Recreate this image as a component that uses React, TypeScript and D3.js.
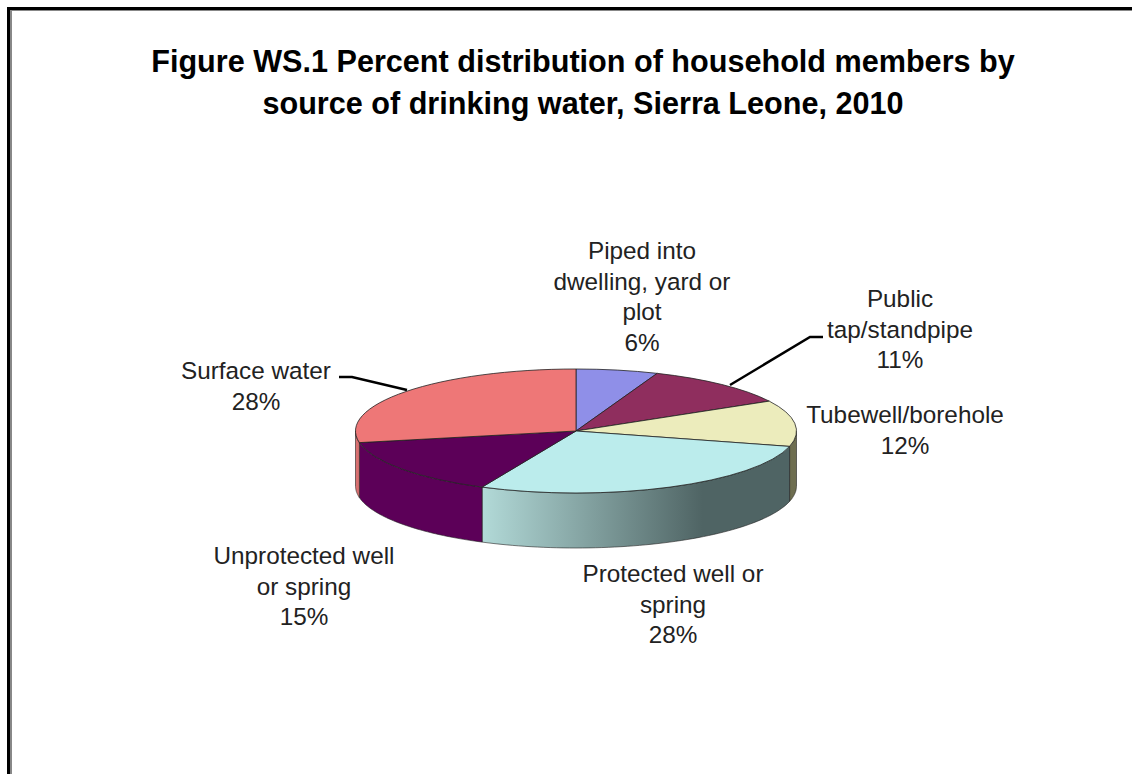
import React from "react";
import * as d3 from "d3";

const categories = [
  "Piped into dwelling, yard or plot",
  "Public tap/standpipe",
  "Tubewell/borehole",
  "Protected well or spring",
  "Unprotected well or spring",
  "Surface water",
];
const percents = [6, 11, 12, 28, 15, 28];
const topColors = ["#8f8fe8", "#8f2e5e", "#ececbc", "#bbecec", "#5c0058", "#ee7777"];
const sideColors = ["#6f6f9a", "#5c1d3c", "#6e6e50", "url(#protectedWall)", "#5c0058", "#d87070"];
const labelLines = [
  ["Piped into", "dwelling, yard or", "plot", "6%"],
  ["Public", "tap/standpipe", "11%"],
  ["Tubewell/borehole", "12%"],
  ["Protected well or", "spring", "28%"],
  ["Unprotected well", "or spring", "15%"],
  ["Surface water", "28%"],
];
const labelPos = [
  [642, 259],
  [900, 307],
  [905, 423],
  [673, 582],
  [304, 564],
  [256, 379],
];
const titleLines = [
  "Figure WS.1 Percent distribution of household members by",
  "source of drinking water, Sierra Leone, 2010",
];

const width = 1132;
const height = 774;
const cx = 576;
const cy = 431;
const rx = 220.5;
const ry = 62;
const depth = 55;
const font = "Liberation Sans, Arial, sans-serif";

const pie = d3.pie<number>().sort(null);
const slices = pie(percents);
const arc = d3.arc<d3.PieArcDatum<number>>().innerRadius(0).outerRadius(rx);

// point on the tilted rim, angle measured clockwise from 12 o'clock
const rim = (a: number, dy = 0): [number, number] => [
  cx + rx * Math.sin(a),
  cy - ry * Math.cos(a) + dy,
];

// side wall of a slice, only the part facing the viewer (90 to 270 degrees)
const wallPath = (start: number, end: number) => {
  const a0 = Math.max(start, Math.PI / 2);
  const a1 = Math.min(end, (3 * Math.PI) / 2);
  if (a1 <= a0) return null;
  const angles = d3.range(0, 61).map((i) => a0 + ((a1 - a0) * i) / 60);
  const pts = [
    ...angles.map((a) => rim(a)),
    ...angles.slice().reverse().map((a) => rim(a, depth)),
  ];
  return d3.line()(pts) + "Z";
};

export default function App() {
  return (
    <svg
      width={width}
      height={height}
      style={{ position: "absolute", left: 0, top: 0, background: "#fff" }}
    >
      <defs>
        <linearGradient id="protectedWall" gradientUnits="userSpaceOnUse" x1={478} x2={790} y1={0} y2={0}>
          <stop offset="0" stopColor="#b4dcda" />
          <stop offset="0.72" stopColor="#4f6464" />
          <stop offset="1" stopColor="#4f6464" />
        </linearGradient>
      </defs>

      {/* frame */}
      <rect x={8.5} y={8.5} width={1132} height={800} fill="none" stroke="#000" strokeWidth={3} />
      <path d="M10,10.5H1132" fill="none" stroke="#888" strokeWidth={1} />
      <path d="M11,10V774" fill="none" stroke="#888" strokeWidth={2} />

      {titleLines.map((t, i) => (
        <text
          key={i}
          x={583}
          y={72 + i * 42}
          textAnchor="middle"
          fontFamily={font}
          fontWeight="bold"
          fontSize={30.6}
          fill="#000"
        >
          {t}
        </text>
      ))}

      {slices.map((s, i) => {
        const d = wallPath(s.startAngle, s.endAngle);
        return d ? (
          <path key={i} d={d} fill={sideColors[i]} stroke="#222" strokeWidth={0.6} />
        ) : null;
      })}

      <g transform={`translate(${cx},${cy}) scale(1,${ry / rx})`}>
        {slices.map((s, i) => (
          <path
            key={categories[i]}
            d={arc(s) ?? ""}
            fill={topColors[i]}
            stroke="#222"
            strokeWidth={0.8}
            style={{ vectorEffect: "non-scaling-stroke" }}
          />
        ))}
      </g>

      {/* leader lines */}
      <path d="M730,385L810,337L823,337" fill="none" stroke="#000" strokeWidth={2.5} />
      <path d="M407,390L352,377L339,377" fill="none" stroke="#000" strokeWidth={2.5} />

      {labelLines.map((lines, i) => (
        <text
          key={i}
          textAnchor="middle"
          fontFamily={font}
          fontSize={24.3}
          fill="#222"
        >
          {lines.map((l, j) => (
            <tspan key={j} x={labelPos[i][0]} y={labelPos[i][1] + j * 30.7}>
              {l}
            </tspan>
          ))}
        </text>
      ))}
    </svg>
  );
}
